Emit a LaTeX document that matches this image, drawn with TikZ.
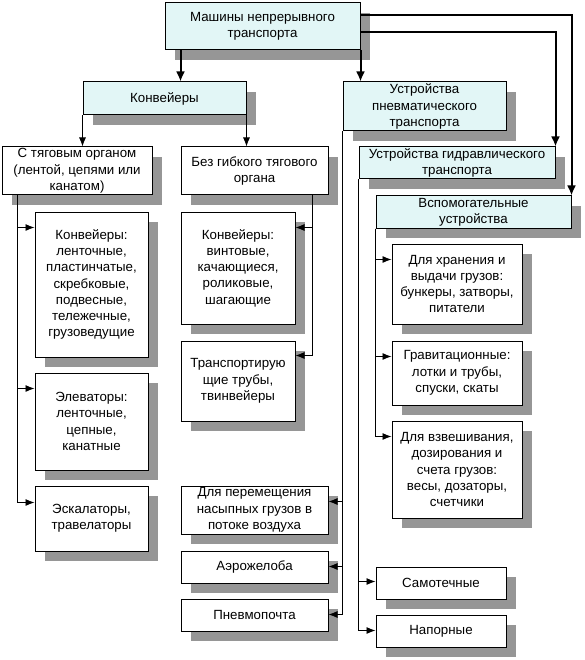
\documentclass[tikz,border=0pt]{standalone}
\usepackage{fontspec}
\setmainfont{Liberation Sans}
\usetikzlibrary{shadows,arrows.meta}
\definecolor{boxcyan}{RGB}{226,246,246}
\definecolor{shgray}{RGB}{150,150,150}
\begin{document}
\begin{tikzpicture}[x=1pt,y=-1pt,
 bx/.style={draw=black, line width=1pt, fill=white, inner sep=0pt, align=center,
   font=\fontsize{13.3}{16.3}\selectfont,
   drop shadow={shadow xshift=10pt,shadow yshift=-10pt,fill=shgray,opacity=1}},
 cy/.style={bx, fill=boxcyan},
 thickarr/.style={line width=2pt, -{Latex[length=10pt,width=9pt]}},
 thinarr/.style={line width=0.9pt, -{Latex[length=9pt,width=7pt]}},
 ]
\useasboundingbox (0,0) rectangle (584,660);

\node[cy, minimum width=195pt, minimum height=47pt] (top) at (262.5,26.5) {Машины непрерывного\\транспорта};
\node[cy, minimum width=163pt, minimum height=33pt] (konv) at (164.5,98.5) {Конвейеры};
\node[cy, minimum width=163pt, minimum height=49pt] (pneu) at (424.5,106.5) {Устройства\\пневматического\\транспорта};
\node[cy, minimum width=196pt, minimum height=32pt] (hydr) at (457,163) {Устройства гидравлического\\транспорта};
\node[cy, minimum width=195pt, minimum height=32pt] (vspom) at (473.5,212) {Вспомогательные\\устройства};

\node[bx, minimum width=150pt, minimum height=48pt] (tyag) at (77,171) {С тяговым органом\\(лентой, цепями или\\канатом)};
\node[bx, minimum width=147pt, minimum height=48pt] (bez) at (254.5,171) {Без гибкого тягового\\органа};

\node[bx, minimum width=113pt, minimum height=145pt] (konva) at (91.5,284.5) {Конвейеры:\\ленточные,\\пластинчатые,\\скребковые,\\подвесные,\\тележечные,\\грузоведущие};
\node[bx, minimum width=113pt, minimum height=97pt] (elev) at (91.5,421.5) {Элеваторы:\\ленточные,\\цепные,\\канатные};
\node[bx, minimum width=113pt, minimum height=65pt] (eskal) at (91.5,518.5) {Эскалаторы,\\травелаторы};

\node[bx, minimum width=114pt, minimum height=112pt] (konvb) at (238,268) {Конвейеры:\\винтовые,\\качающиеся,\\роликовые,\\шагающие};
\node[bx, minimum width=114pt, minimum height=80pt] (trub) at (238,381) {Транспортирую\\щие трубы,\\твинвейеры};

\node[bx, minimum width=147pt, minimum height=48pt] (perem) at (254.5,510) {Для перемещения\\насыпных грузов в\\потоке воздуха};
\node[bx, minimum width=147pt, minimum height=32pt] (aero) at (254.5,567) {Аэрожелоба};
\node[bx, minimum width=147pt, minimum height=32pt] (pnevmo) at (254.5,615) {Пневмопочта};

\node[bx, minimum width=130pt, minimum height=80pt] (hran) at (457,284) {Для хранения и\\выдачи грузов:\\бункеры, затворы,\\питатели};
\node[bx, minimum width=130pt, minimum height=64pt] (grav) at (457,373) {Гравитационные:\\лотки и трубы,\\спуски, скаты};
\node[bx, minimum width=130pt, minimum height=97pt] (vzves) at (457,469.5) {Для взвешивания,\\дозирования и\\счета грузов:\\весы, дозаторы,\\счетчики};

\node[bx, minimum width=130pt, minimum height=32pt] (samot) at (441,583) {Самотечные};
\node[bx, minimum width=130pt, minimum height=32pt] (napor) at (441,631) {Напорные};

% thick connectors from the top box
\draw[thickarr] ([xshift=16pt]top.south west) -- ([xshift=16pt]top.south west |- konv.north);
\draw[thickarr] (top.south east) -- (top.south east |- pneu.north);
\draw[thickarr] ([yshift=-13pt]top.north east) -| (vspom.north east);
\draw[thickarr] ([yshift=-30pt]top.north east) -| (hydr.north east);

% conveyors
\draw[thinarr] (konv.south west) -- (konv.south west |- tyag.north);
\draw[thinarr] (konv.south east) -- (konv.south east |- bez.north);

\coordinate (t0) at ([xshift=16pt]tyag.south west);
\draw[thinarr] (t0) |- ([yshift=-16pt]konva.north west);
\draw[thinarr] (t0) |- ([yshift=-16pt]elev.north west);
\draw[thinarr] (t0) |- ([yshift=-17pt]eskal.north west);

\coordinate (b0) at ([xshift=-16pt]bez.south east);
\draw[thinarr] (b0) |- ([yshift=-16pt]konvb.north east);
\draw[thinarr] (b0) |- ([yshift=-15pt]trub.north east);

% pneumatic
\draw[thinarr] (pneu.south west) |- ([yshift=-16pt]perem.north east);
\draw[thinarr] (pneu.south west) |- ([yshift=-16pt]aero.north east);
\draw[thinarr] (pneu.south west) |- ([yshift=-16pt]pnevmo.north east);

% hydraulic
\draw[thinarr] (hydr.south west) |- ([yshift=-15pt]samot.north west);
\draw[thinarr] (hydr.south west) |- ([yshift=-16pt]napor.north west);

% auxiliary
\draw[thinarr] (vspom.south west) |- ([yshift=-16pt]hran.north west);
\draw[thinarr] (vspom.south west) |- ([yshift=-16pt]grav.north west);
\draw[thinarr] (vspom.south west) |- ([yshift=-16pt]vzves.north west);
\end{tikzpicture}
\end{document}
